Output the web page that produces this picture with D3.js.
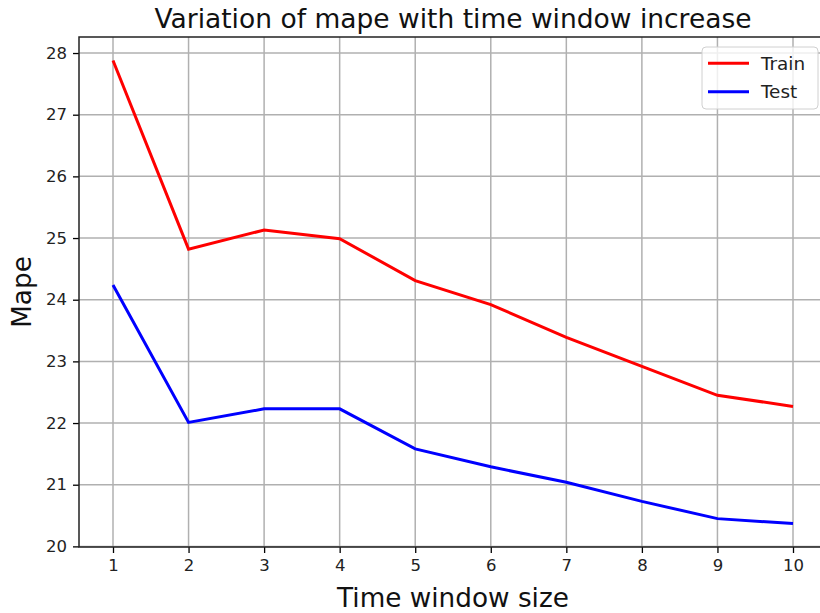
<!DOCTYPE html>
<html><head><meta charset="utf-8">
<script src="https://cdn.jsdelivr.net/npm/d3@7"></script>
<style>body{margin:0;background:#fff}svg{display:block;font-family:"DejaVu Sans",sans-serif}</style>
</head><body>
<script>
const windows = [1,2,3,4,5,6,7,8,9,10];
const trainMape = [27.88,24.82,25.13,24.99,24.31,23.92,23.39,22.92,22.45,22.27];
const testMape  = [24.24,22.01,22.23,22.23,21.58,21.29,21.04,20.73,20.45,20.37];
const xTicks = [1,2,3,4,5,6,7,8,9,10];
const yTicks = [20,21,22,23,24,25,26,27,28];
const seriesNames = ["Train","Test"];
const seriesColors = ["#ff0000","#0000ff"];

const W=820,H=613;
const svg=d3.select("body").append("svg").attr("width",W).attr("height",H);
const L=79,R=827,T=37,B=547;
const x=d3.scaleLinear().domain([0.55,10.45]).range([L,R]);
const y=d3.scaleLinear().domain([19.99,28.26]).range([B,T]);

svg.append("defs").append("clipPath").attr("id","clip").append("rect").attr("x",L).attr("y",T).attr("width",R-L).attr("height",B-T);

// grid
const g=svg.append("g");
g.selectAll(".gx").data(xTicks).join("line").attr("x1",d=>x(d)).attr("x2",d=>x(d)).attr("y1",T).attr("y2",B).attr("stroke","#b0b0b0").attr("stroke-width",1.5);
g.selectAll(".gy").data(yTicks).join("line").attr("x1",L).attr("x2",R).attr("y1",d=>y(d)).attr("y2",d=>y(d)).attr("stroke","#b0b0b0").attr("stroke-width",1.5);

// lines
const line=d3.line().x((d,i)=>x(windows[i])).y(d=>y(d));
[trainMape,testMape].forEach((s,k)=>{
  svg.append("path").datum(s).attr("d",line).attr("fill","none").attr("stroke",seriesColors[k]).attr("stroke-width",3).attr("clip-path","url(#clip)");
});

// axes
const xa=svg.append("g").attr("transform",`translate(0,${B})`).call(d3.axisBottom(x).tickValues(xTicks).tickSize(6).tickPadding(6).tickFormat(d3.format("d")));
const ya=svg.append("g").attr("transform",`translate(${L},0)`).call(d3.axisLeft(y).tickValues(yTicks).tickSize(6).tickPadding(6).tickFormat(d3.format("d")));
[xa,ya].forEach(a=>{a.select(".domain").remove();a.selectAll("line").attr("stroke","#000").attr("stroke-width",1.3);a.selectAll("text").attr("font-size",16.5).attr("fill","#222").attr("font-family","DejaVu Sans");});

// spines
svg.append("rect").attr("x",L).attr("y",T).attr("width",R-L).attr("height",B-T).attr("fill","none").attr("stroke","#222").attr("stroke-width",1.5);

// title & labels
svg.append("text").attr("x",(L+R)/2).attr("y",28).attr("text-anchor","middle").attr("font-size",26.5).attr("fill","#111").text("Variation of mape with time window increase");
svg.append("text").attr("x",(L+R)/2).attr("y",607).attr("text-anchor","middle").attr("font-size",26.3).attr("fill","#111").text("Time window size");
svg.append("text").attr("transform",`translate(31,${(T+B)/2}) rotate(-90)`).attr("text-anchor","middle").attr("font-size",26.3).attr("fill","#111").text("Mape");

// legend
const lg=svg.append("g");
lg.append("rect").attr("x",702).attr("y",47).attr("width",116).attr("height",62).attr("rx",4).attr("fill","#fff").attr("fill-opacity",0.8).attr("stroke","#d0d0d0");
seriesNames.forEach((n,k)=>{
  const yy=63.3+k*28.4;
  lg.append("line").attr("x1",708).attr("x2",749).attr("y1",yy).attr("y2",yy).attr("stroke",seriesColors[k]).attr("stroke-width",3);
  lg.append("text").attr("x",761).attr("y",yy+6.5).attr("font-size",18.4).attr("fill","#222").text(n);
});
</script>
</body></html>
